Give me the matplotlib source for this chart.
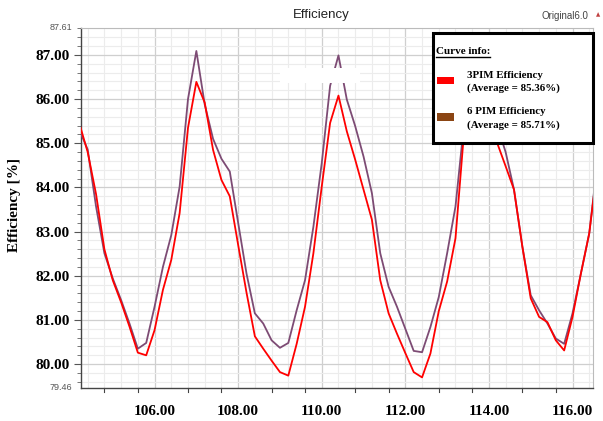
import numpy as np
import matplotlib
matplotlib.use("Agg")
import matplotlib.pyplot as plt
from matplotlib.patches import Rectangle
from matplotlib.lines import Line2D
from matplotlib.ticker import MultipleLocator, FixedLocator

# sample positions (one point every 0.2)
x_vals = np.round(np.arange(104.2, 116.61, 0.2), 1)

eff_3pim = [85.45, 84.80, 83.85, 82.60, 81.90, 81.40, 80.85, 80.26, 80.20, 80.77,
            81.68, 82.36, 83.42, 85.35, 86.39, 85.92, 84.85, 84.17, 83.80, 82.70,
            81.62, 80.63, 80.35, 80.08, 79.82, 79.74, 80.46, 81.30, 82.51, 84.02,
            85.46, 86.08, 85.27, 84.63, 83.95, 83.27, 81.90, 81.15, 80.69, 80.25,
            79.82, 79.70, 80.24, 81.20, 81.87, 82.85, 85.20, 85.90, 86.20, 85.60,
            85.00, 84.48, 83.95, 82.66, 81.49, 81.07, 80.95, 80.54, 80.31, 81.07,
            82.05, 82.96, 84.50]

eff_6pim = [85.30, 84.86, 83.57, 82.51, 81.94, 81.45, 80.92, 80.35, 80.48, 81.30,
            82.20, 82.92, 84.02, 86.00, 87.09, 85.88, 85.10, 84.65, 84.36, 83.20,
            82.05, 81.15, 80.92, 80.54, 80.37, 80.48, 81.22, 81.90, 83.11, 84.55,
            86.30, 86.99, 85.99, 85.39, 84.70, 83.87, 82.51, 81.75, 81.30, 80.80,
            80.30, 80.27, 80.84, 81.52, 82.51, 83.57, 85.40, 86.30, 86.90, 86.20,
            85.40, 84.80, 83.95, 82.66, 81.56, 81.22, 80.92, 80.58, 80.46, 81.15,
            82.05, 82.96, 84.60]

avg_3pim = 85.36
avg_6pim = 85.71
x_major = [106, 108, 110, 112, 114, 116]
y_major = [80, 81, 82, 83, 84, 85, 86, 87]
y_min, y_max = 79.46, 87.61
x_min, x_max = 104.24, 116.49

serif = "Liberation Serif"
sans = "Liberation Sans"

W, H = 603, 421
fig = plt.figure(figsize=(W / 100, H / 100), dpi=100)
ax = fig.add_axes([81 / W, 1 - 388 / H, (593 - 81) / W, (388 - 28) / H])

ax.plot(x_vals, eff_6pim, color="#7d4b74", lw=1.3, zorder=3)
ax.plot(x_vals, eff_3pim, color="#ff0000", lw=1.3, zorder=4)

ax.set_xlim(x_min, x_max)
ax.set_ylim(y_min, y_max)

# grid: integers / even x are darker, fine steps lighter
ax.xaxis.set_major_locator(FixedLocator(x_major))
ax.yaxis.set_major_locator(FixedLocator(y_major))
ax.xaxis.set_minor_locator(MultipleLocator(0.4))
ax.yaxis.set_minor_locator(MultipleLocator(0.2))
ax.grid(which="major", color="#cfcfcf", lw=0.9, zorder=0)
ax.grid(which="minor", color="#ececec", lw=0.8, zorder=0)
ax.set_axisbelow(True)

ax.set_xticks(x_major)
ax.set_xticklabels([f"{v:.2f}" for v in x_major], fontfamily=serif,
                   fontweight="bold", fontsize=11)
ax.set_yticks(y_major)
ax.set_yticklabels([f"{v:.2f}" for v in y_major], fontfamily=serif,
                   fontweight="bold", fontsize=11)
ax.tick_params(axis="x", which="major", length=0, pad=12)
ax.tick_params(axis="y", which="major", length=5, width=0.8, pad=3, color="#555555")
ax.tick_params(axis="y", which="minor", length=3, width=0.7, color="#777777")
ax.tick_params(axis="x", which="minor", length=0)

# short marks under the bottom axis
tick_marks = [n + d for n in range(104, 116, 2) for d in (0.8, 1.6)]
for t in tick_marks:
    if x_min < t < x_max:
        ax.plot([t, t], [0, -0.012], transform=ax.get_xaxis_transform(),
                color="#444444", lw=0.8, clip_on=False)

for side in ("top", "right"):
    ax.spines[side].set_color("#bbbbbb")
    ax.spines[side].set_linewidth(0.8)
for side in ("left", "bottom"):
    ax.spines[side].set_color("#444444")
    ax.spines[side].set_linewidth(1.0)

# axis limit labels
ax.text(-0.018, 1.0, f"{y_max:.2f}", transform=ax.transAxes, ha="right",
        va="center", fontsize=6.5, color="#555555", fontfamily=sans)
ax.text(-0.018, 0.0, f"{y_min:.2f}", transform=ax.transAxes, ha="right",
        va="center", fontsize=6.5, color="#555555", fontfamily=sans)

# blank patch over the top of the middle peak
ax.add_patch(Rectangle((0.389, 0.847), 0.156, 0.042, transform=ax.transAxes,
                       facecolor="white", edgecolor="none", zorder=6))

fig.text(15 / W, 1 - 205 / H, "Efficiency [%]", rotation=90, ha="center",
         va="center", fontfamily=serif, fontweight="bold", fontsize=11)

fig.text(321 / W, 1 - 15 / H, "Efficiency", ha="center", va="center",
         fontfamily=sans, fontsize=9.5, color="#222222")
fig.text(541 / W, 1 - 16 / H, "Original6.0", ha="left", va="center",
         fontfamily=sans, fontsize=7, color="#444444")
fig.text(598 / W, 1 - 15 / H, "\u25b2", ha="center", va="center",
         fontsize=4, color="#c04040", fontfamily="DejaVu Sans")

# legend box
def px(x, y):
    return x / W, 1 - y / H

bx0, by0, bx1, by1 = 433, 33, 593, 143
fig.add_artist(Rectangle(px(bx0, by1), (bx1 - bx0) / W, (by1 - by0) / H,
                         transform=fig.transFigure, facecolor="white",
                         edgecolor="black", lw=2.2, zorder=10))

hdr = fig.text(*px(436, 51), "Curve info:", ha="left", va="center",
               fontfamily=serif, fontweight="bold", fontsize=8, zorder=11)
fig.canvas.draw()
bb = hdr.get_window_extent(fig.canvas.get_renderer())
uy = bb.y0 - 1
fig.add_artist(Line2D([bb.x0 / W, bb.x1 / W], [uy / H, uy / H],
                      transform=fig.transFigure, color="black", lw=1.0, zorder=11))

entries = [("#ff0000", "3PIM Efficiency", avg_3pim, 80),
           ("#8b4513", "6 PIM Efficiency", avg_6pim, 117)]
for col, name, avg, yc in entries:
    fig.add_artist(Rectangle(px(437, yc + 3.5), 17 / W, 7 / H,
                             transform=fig.transFigure, facecolor=col,
                             edgecolor="none", zorder=11))
    fig.text(*px(467, yc - 5), name, ha="left", va="center", fontfamily=serif,
             fontweight="bold", fontsize=7.8, zorder=11)
    fig.text(*px(467, yc + 8), f"(Average = {avg:.2f}%)", ha="left", va="center",
             fontfamily=serif, fontweight="bold", fontsize=7.8, zorder=11)

fig.savefig("out.png", dpi=100)
